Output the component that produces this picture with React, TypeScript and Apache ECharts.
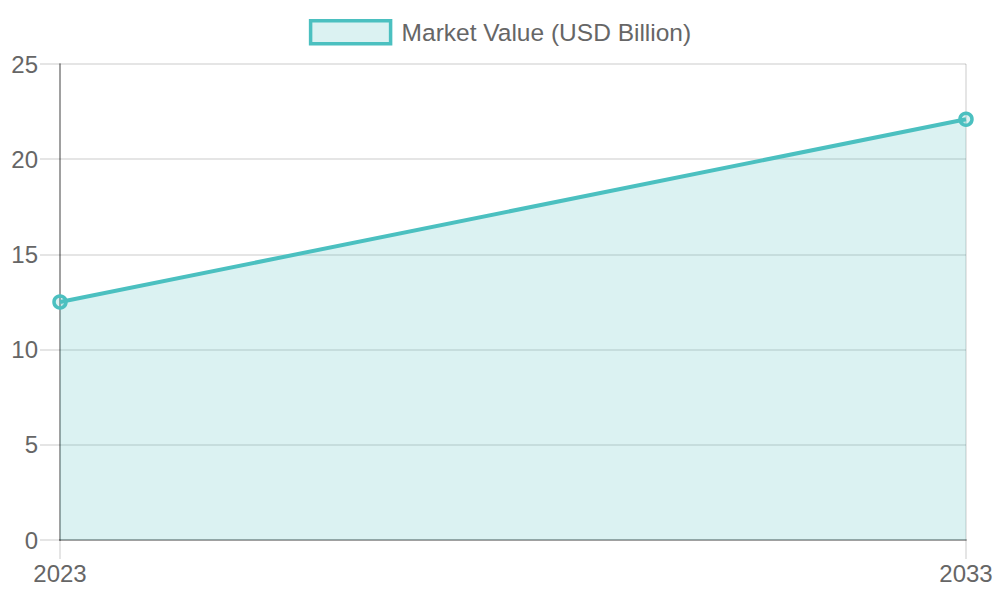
import React, { useEffect, useRef } from 'react';
import * as echarts from 'echarts';

// данные графика
const years = ['2023', '2033'];
const marketValue = [12.5, 22.1];
const seriesName = 'Market Value (USD Billion)';

const LINE = '#4BC0C0';
const FILL = 'rgba(75, 192, 192, 0.2)';
const TEXT = '#666666';
const GRID = 'rgba(0, 0, 0, 0.1)';
const AXIS = 'rgba(0, 0, 0, 0.3)';
const FONT = '"Liberation Sans", Arial, Helvetica, sans-serif';

export default function App() {
  const chartRef = useRef<HTMLDivElement>(null);

  useEffect(() => {
    if (!chartRef.current) return;
    const chart = echarts.init(chartRef.current, null, { renderer: 'svg' });

    chart.setOption({
      animation: false,
      textStyle: { fontFamily: FONT },
      legend: {
        top: 14,
        left: 'center',
        itemWidth: 80,
        itemHeight: 23,
        itemGap: 20,
        textStyle: { fontSize: 24.5, color: TEXT, fontFamily: FONT, padding: [0, 0, 0, 6] },
        data: [
          {
            name: seriesName,
            icon: 'rect',
            itemStyle: { color: FILL, borderColor: LINE, borderWidth: 3.5, opacity: 1 },
          },
        ],
      },
      grid: { left: 60, right: 34, top: 64, bottom: 60, containLabel: false },
      xAxis: {
        type: 'category',
        data: years,
        boundaryGap: false,
        axisLine: { show: true, lineStyle: { color: AXIS, width: 2 } },
        axisTick: { show: true, length: 19, lineStyle: { color: GRID, width: 2 } },
        axisLabel: { fontSize: 24, color: TEXT, margin: 21, fontFamily: FONT },
        splitLine: { show: true, lineStyle: { color: GRID, width: 2 } },
      },
      yAxis: {
        type: 'value',
        min: 0,
        max: 25,
        interval: 5,
        axisLine: { show: true, lineStyle: { color: AXIS, width: 2 } },
        axisTick: { show: true, length: 20, lineStyle: { color: GRID, width: 2 } },
        axisLabel: { fontSize: 24, color: TEXT, margin: 22, fontFamily: FONT },
        splitLine: { show: true, lineStyle: { color: GRID, width: 2 } },
      },
      series: [
        {
          name: seriesName,
          type: 'line',
          data: marketValue,
          symbol: 'circle',
          symbolSize: 12,
          lineStyle: { color: LINE, width: 4 },
          itemStyle: { color: FILL, borderColor: LINE, borderWidth: 3.5 },
          areaStyle: { color: FILL, opacity: 1, origin: 'start' },
        },
      ],
    });

    return () => {
      chart.dispose();
    };
  }, []);

  return (
    <div
      ref={chartRef}
      style={{ position: 'fixed', left: 0, top: 0, width: 1000, height: 600, background: '#fff' }}
    />
  );
}
